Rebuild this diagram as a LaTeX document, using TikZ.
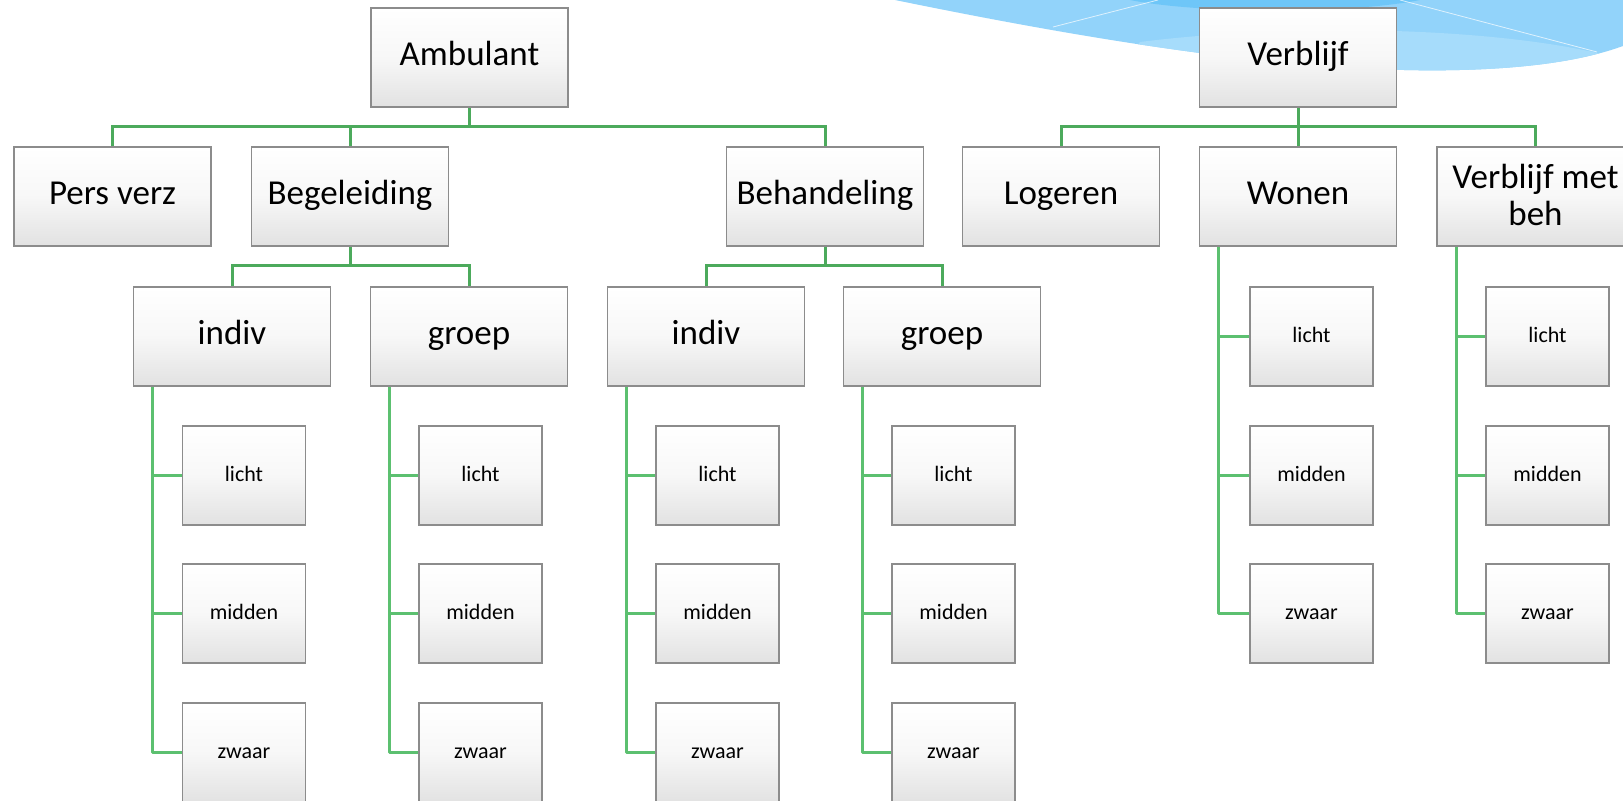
\documentclass[tikz,border=0pt]{standalone}
\usepackage{fontspec}
\setmainfont{Carlito}
\usetikzlibrary{calc}
\definecolor{sky}{RGB}{146,211,250}
\definecolor{skydark}{RGB}{110,198,248}
\definecolor{skylight}{RGB}{166,220,251}
\definecolor{boxgray}{RGB}{140,140,140}
\definecolor{boxbot}{RGB}{226,226,226}
\definecolor{linegreen}{RGB}{76,170,92}
\definecolor{railgreen}{RGB}{92,192,112}
\begin{document}
\begin{tikzpicture}[x=0.5pt,y=-0.5pt,
  bigbox/.style={draw=boxgray, line width=0.7pt, top color=white, bottom color=boxbot,
    middle color=white!97!black, minimum width=98.5pt, minimum height=49.5pt,
    inner sep=0pt, font=\fontsize{17.5}{18.5}\selectfont, align=center,
    text height=12.5pt, text depth=4pt},
  twoline/.style={text height={}, text depth=2pt},
  smallbox/.style={bigbox, minimum width=61.5pt, font=\fontsize{11}{13}\selectfont,
    text height=8pt, text depth=2pt},
  conn/.style={draw=linegreen, line width=1.5pt},
  rail/.style={draw=railgreen, line width=1.5pt, line join=round}]
\clip (0,0) rectangle (1623,801);
\fill[white] (0,0) rectangle (1623,801);
% blue swoosh
\fill[sky] (895,0) .. controls (1100,42) and (1300,74) .. (1460,70)
  .. controls (1540,68) and (1590,58) .. (1623,46) -- (1623,0) -- cycle;
\begin{scope}
\clip (895,0) .. controls (1100,42) and (1300,74) .. (1460,70)
  .. controls (1540,68) and (1590,58) .. (1623,46) -- (1623,0) -- cycle;
\fill[skylight] (1140,42) .. controls (1300,22) and (1500,28) .. (1610,56) -- (1623,90) -- (1100,90) -- cycle;
\fill[skydark] (1130,0) .. controls (1200,14) and (1350,14) .. (1420,0) -- cycle;
\draw[white, opacity=0.7, line width=0.4pt] (1053,27) -- (1158,0);
\draw[white, opacity=0.7, line width=0.4pt] (1400,0) -- (1597,52);
\end{scope}
% level 1
\node[bigbox] (amb) at (469.5,57.5) {Ambulant};
\node[bigbox] (ver) at (1298,57.5) {Verblijf};
% level 2
\node[bigbox] (pers) at (112.5,196.5) {Pers verz};
\node[bigbox] (beg) at (350,196.5) {Begeleiding};
\node[bigbox] (beh) at (825,196.5) {Behandeling};
\node[bigbox] (log) at (1061,196.5) {Logeren};
\node[bigbox] (won) at (1298,196.5) {Wonen};
\node[bigbox, twoline] (vmb) at (1535.5,196.5) {Verblijf met\\beh};
% level 3
\node[bigbox] (ia) at (232,336.5) {indiv};
\node[bigbox] (ga) at (469,336.5) {groep};
\node[bigbox] (ib) at (706,336.5) {indiv};
\node[bigbox] (gb) at (942,336.5) {groep};
% small boxes
\foreach \n/\x in {ia/244, ga/480.5, ib/717.5, gb/953.5}{
  \node[smallbox] (\n-l) at (\x,475.5) {licht};
  \node[smallbox] (\n-m) at (\x,613.5) {midden};
  \node[smallbox] (\n-z) at (\x,752.5) {zwaar};
}
\foreach \n/\x in {won/1311.5, vmb/1547.5}{
  \node[smallbox] (\n-l) at (\x,336.5) {licht};
  \node[smallbox] (\n-m) at (\x,475.5) {midden};
  \node[smallbox] (\n-z) at (\x,613.5) {zwaar};
}
% connectors level 1 -> 2
\coordinate (ja) at (469.5,127);
\draw[conn] (amb.south) -- (ja);
\draw[conn] (pers.north) -- (pers.north |- ja) -- (beh.north |- ja) -- (beh.north);
\draw[conn] (beg.north) -- (beg.north |- ja);
\coordinate (jv) at (1298,127);
\draw[conn] (ver.south) -- (jv);
\draw[conn] (log.north) -- (log.north |- jv) -- (vmb.north |- jv) -- (vmb.north);
\draw[conn] (won.north) -- (won.north |- jv);
% connectors level 2 -> 3
\coordinate (jb) at (350,266);
\draw[conn] (beg.south) -- (jb);
\draw[conn] (ia.north) -- (ia.north |- jb) -- (ga.north |- jb) -- (ga.north);
\coordinate (jc) at (825,266);
\draw[conn] (beh.south) -- (jc);
\draw[conn] (ib.north) -- (ib.north |- jc) -- (gb.north |- jc) -- (gb.north);
% rails
\foreach \n in {ia, ga, ib, gb, won, vmb}{
  \coordinate (\n-r) at ($(\n.south west)+(20,0)$);
  \draw[rail] (\n-r) |- (\n-z.west);
  \draw[rail] (\n-r |- \n-l.west) -- (\n-l.west);
  \draw[rail] (\n-r |- \n-m.west) -- (\n-m.west);
}
\end{tikzpicture}
\end{document}
